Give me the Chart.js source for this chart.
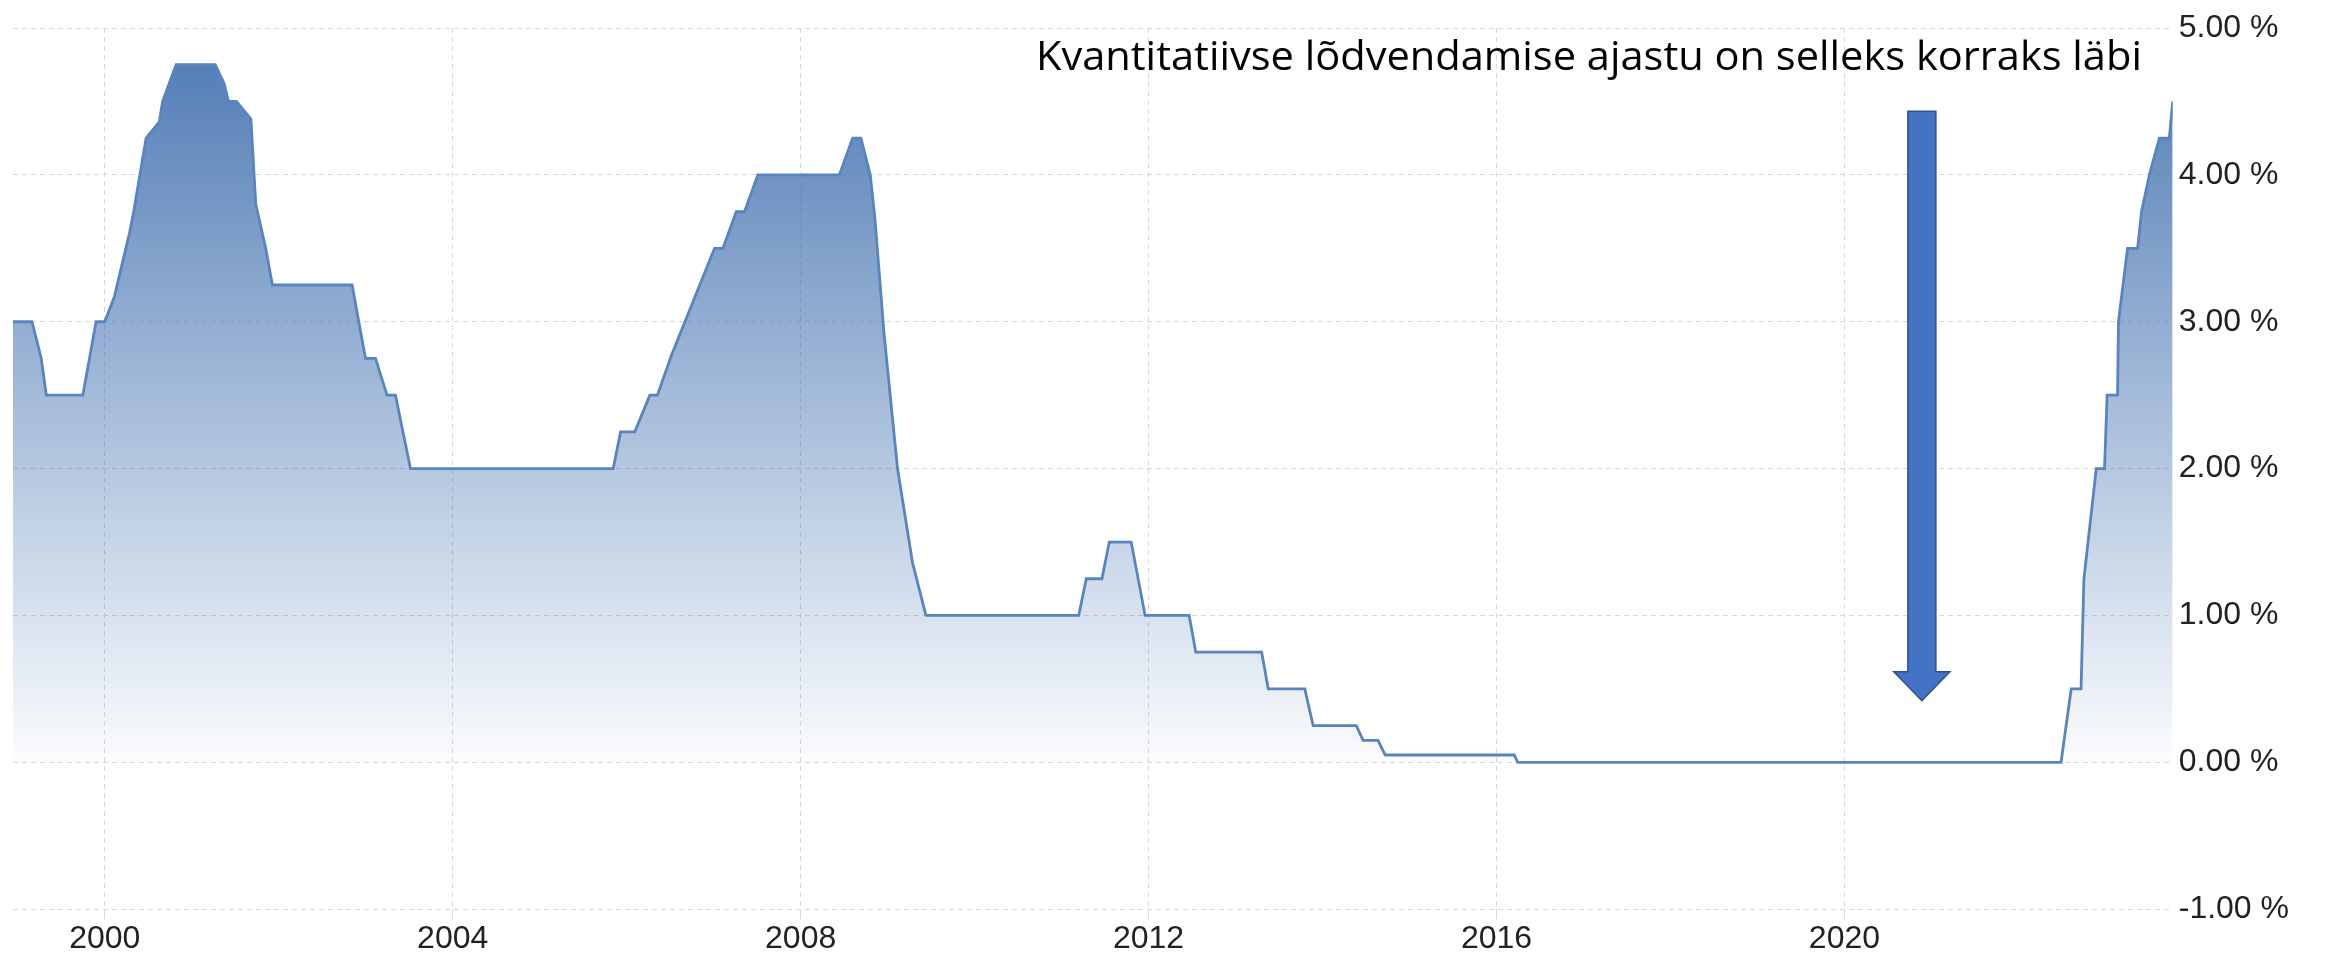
<!DOCTYPE html>
<html>
<head>
<meta charset="utf-8">
<title>Intressimäär</title>
<script src="https://cdn.jsdelivr.net/npm/chart.js@4.4.0/dist/chart.umd.min.js"></script>
<style>
  html, body { margin: 0; padding: 0; background: #fff; }
  canvas { display: block; }
</style>
</head>
<body>
<canvas id="chart" width="2328" height="960"></canvas>
<script>
// line vertices: decimal year and rate in %
const years = [
  1998.945, 1999.163, 1999.27, 1999.328, 1999.748, 1999.90, 2000.0, 2000.11, 2000.283, 2000.333,
  2000.475, 2000.627, 2000.665, 2000.82, 2001.27, 2001.373, 2001.422, 2001.514, 2001.68, 2001.736,
  2001.85, 2001.927, 2002.844, 2002.92, 2002.998, 2003.112, 2003.245, 2003.342, 2003.514, 2005.845,
  2005.93, 2006.094, 2006.266, 2006.353, 2006.514, 2006.84, 2007.01, 2007.107, 2007.26, 2007.356,
  2007.508, 2008.445, 2008.598, 2008.693, 2008.80, 2008.853, 2008.96, 2009.114, 2009.286, 2009.44,
  2011.197, 2011.284, 2011.464, 2011.548, 2011.80, 2011.96, 2012.466, 2012.543, 2013.30, 2013.376,
  2013.796, 2013.892, 2014.389, 2014.466, 2014.638, 2014.72, 2016.204, 2016.243, 2022.49, 2022.607,
  2022.72, 2022.753, 2022.895, 2022.99, 2023.02, 2023.14, 2023.15, 2023.255, 2023.37, 2023.416,
  2023.506, 2023.62, 2023.735, 2023.774
];
const rates = [
  3.0, 3.0, 2.75, 2.5, 2.5, 3.0, 3.0, 3.17, 3.6, 3.75,
  4.25, 4.36, 4.5, 4.75, 4.75, 4.62, 4.5, 4.5, 4.38, 3.8,
  3.5, 3.25, 3.25, 3.0, 2.75, 2.75, 2.5, 2.5, 2.0, 2.0,
  2.25, 2.25, 2.5, 2.5, 2.77, 3.25, 3.5, 3.5, 3.75, 3.75,
  4.0, 4.0, 4.25, 4.25, 4.0, 3.71, 2.91, 2.0, 1.36, 1.0,
  1.0, 1.25, 1.25, 1.5, 1.5, 1.0, 1.0, 0.75, 0.75, 0.5,
  0.5, 0.25, 0.25, 0.15, 0.15, 0.05, 0.05, 0.0, 0.0, 0.5,
  0.5, 1.25, 2.0, 2.0, 2.5, 2.5, 3.0, 3.5, 3.5, 3.75,
  4.0, 4.25, 4.25, 4.5
];
const yearTicks = [2000, 2004, 2008, 2012, 2016, 2020];
const rateTicks = [-1, 0, 1, 2, 3, 4, 5];

// annotation
const noteText = 'Kvantitatiivse lõdvendamise ajastu on selleks korraks läbi';
const noteRight = 2023.42;
const noteBaseline = 4.713;
const arrowYear = 2020.89;
const arrowFrom = 4.434;
const arrowHead = 0.616;
const arrowTo = 0.42;

Chart.defaults.font.family = '"Liberation Sans", Arial, sans-serif';
Chart.defaults.color = '#222';

const annotate = {
  id: 'annotate',
  afterDatasetsDraw(chart) {
    const { ctx, scales: { x, y } } = chart;
    const ax = x.getPixelForValue(arrowYear);
    const top = y.getPixelForValue(arrowFrom);
    const base = y.getPixelForValue(arrowHead);
    const tip = y.getPixelForValue(arrowTo);
    ctx.save();
    ctx.beginPath();
    ctx.moveTo(ax - 14, top);
    ctx.lineTo(ax + 14, top);
    ctx.lineTo(ax + 14, base);
    ctx.lineTo(ax + 28, base);
    ctx.lineTo(ax, tip);
    ctx.lineTo(ax - 28, base);
    ctx.lineTo(ax - 14, base);
    ctx.closePath();
    ctx.fillStyle = '#4472c4';
    ctx.fill();
    ctx.lineWidth = 1.5;
    ctx.strokeStyle = '#2f528f';
    ctx.stroke();

    // text squeezed a bit so it has the width of the original
    ctx.font = '41px "Open Sans"';
    const w = ctx.measureText(noteText).width;
    ctx.translate(x.getPixelForValue(noteRight), y.getPixelForValue(noteBaseline));
    ctx.scale(1106 / w, 1);
    ctx.fillStyle = '#000';
    ctx.textAlign = 'right';
    ctx.textBaseline = 'alphabetic';
    ctx.fillText(noteText, 0, 0);
    ctx.restore();
  }
};

const fillGradient = (c) => {
  const { ctx, chartArea, scales } = c.chart;
  if (!chartArea) return 'rgba(74,120,180,0.4)';
  const g = ctx.createLinearGradient(0, scales.y.getPixelForValue(4.75), 0, scales.y.getPixelForValue(0));
  g.addColorStop(0, 'rgba(72,117,178,0.93)');
  g.addColorStop(1, 'rgba(72,117,178,0.02)');
  return g;
};

new Chart(document.getElementById('chart'), {
  type: 'line',
  data: {
    datasets: [{
      data: years.map((yr, i) => ({ x: yr, y: rates[i] })),
      borderColor: '#5884bf',
      borderWidth: 2.8,
      backgroundColor: fillGradient,
      fill: 'origin',
      pointRadius: 0,
      tension: 0,
    }],
  },
  options: {
    responsive: false,
    devicePixelRatio: 1,
    animation: false,
    layout: { padding: { left: 13, top: 28, right: 33, bottom: 0 } },
    plugins: {
      legend: { display: false },
      tooltip: { enabled: false },
    },
    scales: {
      x: {
        type: 'linear',
        min: years[0],
        max: years[years.length - 1],
        afterBuildTicks: (scale) => { scale.ticks = yearTicks.map((v) => ({ value: v })); },
        grid: { color: '#d8d8d8', tickLength: 10, drawTicks: true },
        border: { display: false, dash: [5, 4] },
        ticks: {
          autoSkip: false,
          maxRotation: 0,
          padding: 2,
          font: { size: 32, lineHeight: 1.15 },
          callback: (v) => String(v),
        },
      },
      y: {
        position: 'right',
        min: -1,
        max: 5,
        afterBuildTicks: (scale) => { scale.ticks = rateTicks.map((v) => ({ value: v })); },
        grid: { color: '#d8d8d8', drawTicks: false },
        border: { display: false, dash: [5, 4] },
        ticks: {
          padding: 6,
          font: { size: 32 },
          callback: (v) => v.toFixed(2) + ' %',
        },
      },
    },
  },
  plugins: [annotate],
});
</script>
</body>
</html>
